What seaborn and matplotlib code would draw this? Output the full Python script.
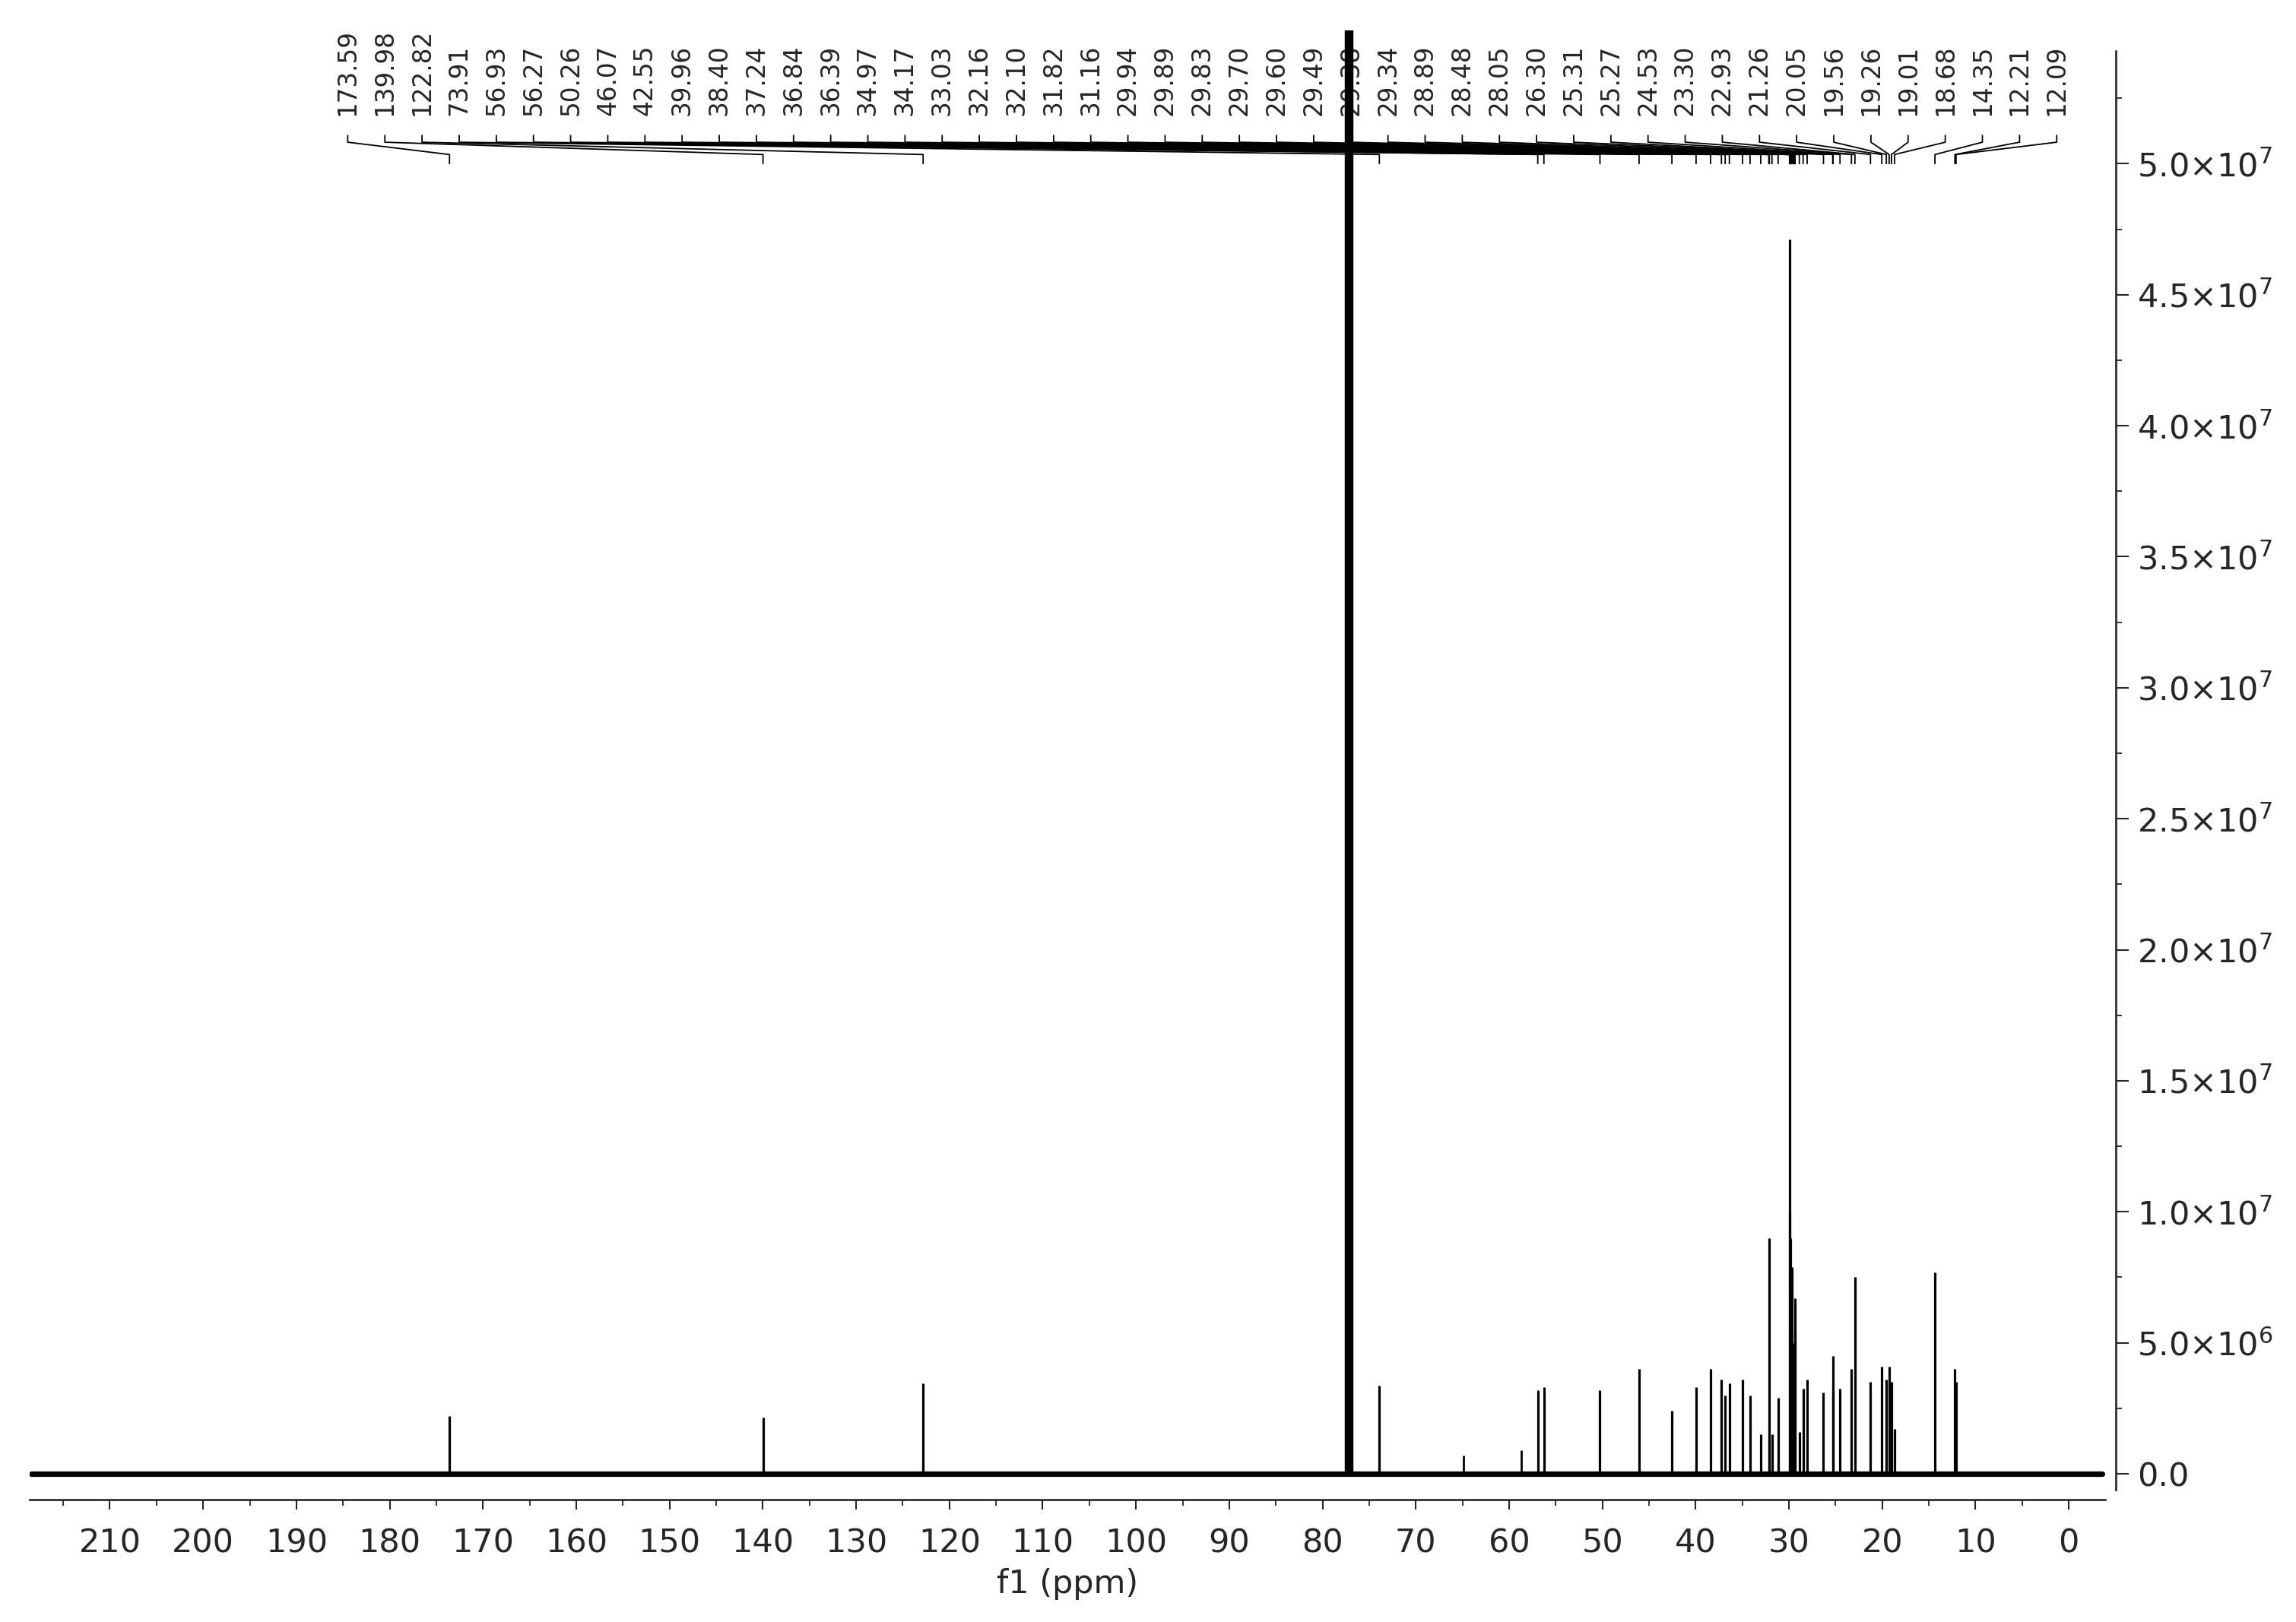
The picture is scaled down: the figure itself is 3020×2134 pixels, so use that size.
import matplotlib
matplotlib.use('Agg')
import matplotlib.pyplot as plt
import seaborn as sns
import numpy as np
from matplotlib.ticker import FixedLocator, FuncFormatter

# labelled 13C peaks (ppm) and their heights
peak_ppm = [173.59, 139.98, 122.82, 73.91, 56.93, 56.27, 50.26, 46.07, 42.55,
            39.96, 38.40, 37.24, 36.84, 36.39, 34.97, 34.17, 33.03, 32.16,
            32.10, 31.82, 31.16, 29.94, 29.89, 29.83, 29.70, 29.60, 29.49,
            29.38, 29.34, 28.89, 28.48, 28.05, 26.30, 25.31, 25.27, 24.53,
            23.30, 22.93, 21.26, 20.05, 19.56, 19.26, 19.01, 18.68, 14.35,
            12.21, 12.09]
peak_height = [2.2e6, 2.15e6, 3.45e6, 3.35e6, 3.2e6, 3.3e6, 3.2e6, 4.0e6, 2.4e6,
               3.3e6, 4.0e6, 3.6e6, 3.0e6, 3.45e6, 3.6e6, 3.0e6, 1.5e6, 1.4e6,
               9.0e6, 1.5e6, 2.9e6, 4.71e7, 1.0e7, 9.0e6, 7.9e6, 5.0e6, 4.0e6,
               6.7e6, 5.4e6, 1.6e6, 3.25e6, 3.6e6, 3.1e6, 4.5e6, 3.15e6, 3.25e6,
               4.0e6, 7.5e6, 3.5e6, 4.1e6, 3.6e6, 4.1e6, 3.5e6, 1.7e6, 7.7e6,
               4.0e6, 3.5e6]

# CDCl3 triplet (off scale) and small unlabelled signals
solvent_ppm = [77.48, 77.16, 76.84]
solvent_height = [1.2e8, 1.2e8, 1.2e8]
minor_ppm = [64.85, 58.72]
minor_height = [7e5, 9e5]

spectrum_range = [218.4, -3.6]
x_major = list(range(0, 211, 10))
x_minor = list(range(5, 216, 10))
y_major = [0, 5e6, 1e7, 1.5e7, 2e7, 2.5e7, 3e7, 3.5e7, 4e7, 4.5e7, 5e7]
y_minor = [2.5e6, 7.5e6, 1.25e7, 1.75e7, 2.25e7, 2.75e7, 3.25e7, 3.75e7,
           4.25e7, 4.75e7, 5.25e7]

sns.set_style('ticks')
plt.rcParams['font.family'] = ['DejaVu Sans']
plt.rcParams['mathtext.fontset'] = 'dejavusans'
plt.rcParams['mathtext.default'] = 'regular'

fig = plt.figure(figsize=(30.2, 21.34), dpi=100)
ax = fig.add_axes([0.0129, 0.0754, 0.904, 0.9059])
ax.set_xlim(218.6, -3.9)
ax.set_ylim(-9.9e5, 5.509e7)

# noisy baseline drawn as a thick trace
sns.lineplot(x=spectrum_range, y=[0, 0], color='black', linewidth=5.2, ax=ax)
ax.vlines(peak_ppm, 0, peak_height, color='black', linewidth=2.3)
ax.vlines(minor_ppm, 0, minor_height, color='black', linewidth=2.0)
ax.vlines(solvent_ppm, 0, solvent_height, color='black', linewidth=3.2, zorder=4)

# peak labels along the top with connectors
label_x = np.linspace(184.5, 1.3, len(peak_ppm))
for lx, p in zip(label_x, peak_ppm):
    ax.text(lx, 5.185e7, f'{p:.2f}', rotation=90, ha='center', va='bottom',
            fontsize=23.5, clip_on=False)
    ax.plot([lx, lx, p, p], [5.108e7, 5.082e7, 5.035e7, 5.0e7],
            color='black', linewidth=1.3)

ax.spines['top'].set_visible(False)
ax.spines['left'].set_visible(False)
ax.spines['right'].set_visible(True)
ax.spines['right'].set_position(('outward', 10))
ax.spines['right'].set_bounds(-6e5, 5.43e7)
for s in ['right', 'bottom']:
    ax.spines[s].set_linewidth(1.9)

ax.yaxis.tick_right()
ax.xaxis.set_major_locator(FixedLocator(x_major))
ax.xaxis.set_minor_locator(FixedLocator(x_minor))
ax.yaxis.set_major_locator(FixedLocator(y_major))
ax.yaxis.set_minor_locator(FixedLocator(y_minor))


def sci_fmt(v, pos):
    if v == 0:
        return '0.0'
    e = int(np.floor(np.log10(v)))
    return f'{v / 10 ** e:.1f}×10$^{{{e}}}$'


ax.yaxis.set_major_formatter(FuncFormatter(sci_fmt))
ax.tick_params(axis='x', which='major', length=9.4, width=1.5, labelsize=31, pad=17)
ax.tick_params(axis='x', which='minor', length=5.8, width=1.3)
ax.tick_params(axis='y', which='major', length=12, width=1.5, labelsize=31, pad=8)
ax.tick_params(axis='y', which='minor', length=5.8, width=1.3)
ax.set_xlabel('f1 (ppm)', fontsize=31, labelpad=8)
ax.set_ylabel('')

fig.savefig('out.png', dpi=100)
